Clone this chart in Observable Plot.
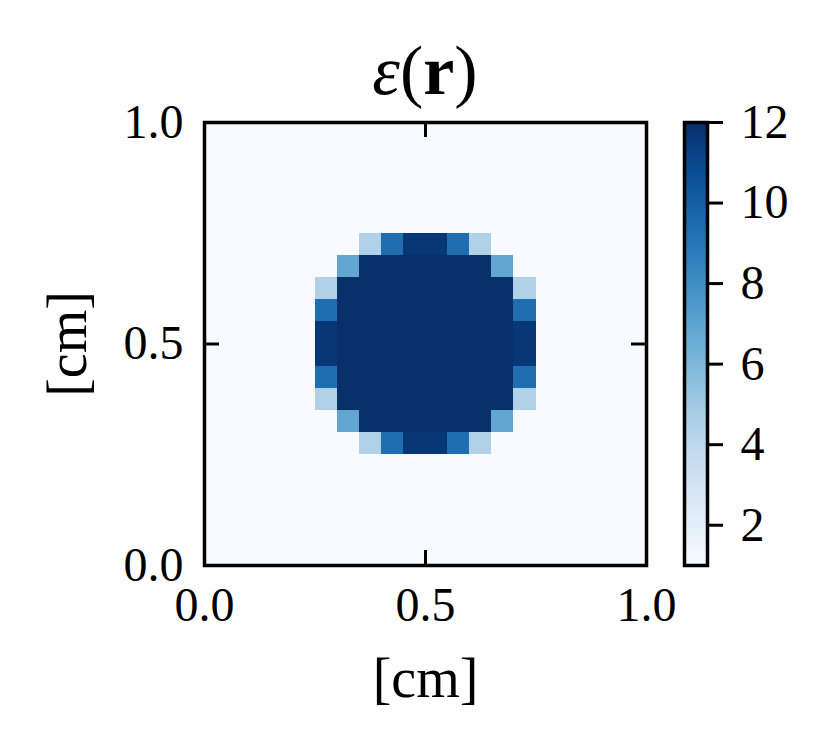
<!DOCTYPE html>
<html><head><meta charset="utf-8">
<script src="https://cdn.jsdelivr.net/npm/d3@7"></script>
<script src="https://cdn.jsdelivr.net/npm/@observablehq/plot@0.6"></script>
<style>
html,body{margin:0;padding:0;background:#fff;}
#wrap{position:relative;width:831px;height:749px;font-family:"Liberation Serif",serif;overflow:hidden;}
#wrap svg{position:absolute;left:0;top:0;}
#title{position:absolute;left:204px;width:442px;top:36px;text-align:center;font-size:70px;line-height:70px;color:#000;white-space:nowrap;}
#title .eps{font-style:italic;}
#title .r{font-weight:bold;}
</style>
</head><body>
<div id="wrap"><div id="title"><span class="eps">ε</span>(<span class="r">r</span>)</div></div>
<script>
// permittivity map, 20 x 20 cells of 0.05 cm, rows listed from top (y = 1.0) to bottom (y = 0.0)
const cellSize = 0.05;
const eps = [
  [1,1,1,1,1,1,1,1,1,1,1,1,1,1,1,1,1,1,1,1],
  [1,1,1,1,1,1,1,1,1,1,1,1,1,1,1,1,1,1,1,1],
  [1,1,1,1,1,1,1,1,1,1,1,1,1,1,1,1,1,1,1,1],
  [1,1,1,1,1,1,1,1,1,1,1,1,1,1,1,1,1,1,1,1],
  [1,1,1,1,1,1,1,1,1,1,1,1,1,1,1,1,1,1,1,1],
  [1,1,1,1,1,1,1,4.5,9.4,11.7,11.7,9.4,4.5,1,1,1,1,1,1,1],
  [1,1,1,1,1,1,6.9,12,12,12,12,12,12,6.9,1,1,1,1,1,1],
  [1,1,1,1,1,4.5,12,12,12,12,12,12,12,12,4.5,1,1,1,1,1],
  [1,1,1,1,1,9.4,12,12,12,12,12,12,12,12,9.4,1,1,1,1,1],
  [1,1,1,1,1,11.7,12,12,12,12,12,12,12,12,11.7,1,1,1,1,1],
  [1,1,1,1,1,11.7,12,12,12,12,12,12,12,12,11.7,1,1,1,1,1],
  [1,1,1,1,1,9.4,12,12,12,12,12,12,12,12,9.4,1,1,1,1,1],
  [1,1,1,1,1,4.5,12,12,12,12,12,12,12,12,4.5,1,1,1,1,1],
  [1,1,1,1,1,1,6.9,12,12,12,12,12,12,6.9,1,1,1,1,1,1],
  [1,1,1,1,1,1,1,4.5,9.4,11.7,11.7,9.4,4.5,1,1,1,1,1,1,1],
  [1,1,1,1,1,1,1,1,1,1,1,1,1,1,1,1,1,1,1,1],
  [1,1,1,1,1,1,1,1,1,1,1,1,1,1,1,1,1,1,1,1],
  [1,1,1,1,1,1,1,1,1,1,1,1,1,1,1,1,1,1,1,1],
  [1,1,1,1,1,1,1,1,1,1,1,1,1,1,1,1,1,1,1,1],
  [1,1,1,1,1,1,1,1,1,1,1,1,1,1,1,1,1,1,1,1]
];
const xTicks = [0, 0.5, 1];
const yTicks = [0, 0.5, 1];
const cbTicks = [2, 4, 6, 8, 10, 12];
const cbDomain = [1, 12];
const axisLabel = "[cm]";

const nRows = eps.length;
const cells = [];
eps.forEach((row, r) => row.forEach((v, c) => cells.push({
  x1: c * cellSize, x2: (c + 1) * cellSize,
  y1: (nRows - r - 1) * cellSize, y2: (nRows - r) * cellSize, v
})));

const W = 831, H = 749;
const fL = 204, fR = 646, fT = 122, fB = 565;
const pw = fR - fL, ph = fB - fT;
const tickLen = 15;
const fmt = d3.format(".1f");

const main = Plot.plot({
  width: W, height: H,
  marginLeft: fL, marginRight: W - fR, marginTop: fT, marginBottom: H - fB,
  style: {fontFamily: "'Liberation Serif', serif", fontSize: "48px", background: "transparent", overflow: "visible"},
  x: {domain: [0, 1]},
  y: {domain: [0, 1]},
  color: {type: "linear", scheme: "blues", domain: cbDomain},
  marks: [
    Plot.rect(cells, {x1: "x1", x2: "x2", y1: "y1", y2: "y2", fill: "v", shapeRendering: "crispEdges"}),
    Plot.tickX(xTicks, {x: d => d, insetBottom: ph - tickLen, stroke: "black", strokeWidth: 3}),
    Plot.tickX(xTicks, {x: d => d, insetTop: ph - tickLen, stroke: "black", strokeWidth: 3}),
    Plot.tickY(yTicks, {y: d => d, insetRight: pw - tickLen, stroke: "black", strokeWidth: 3}),
    Plot.tickY(yTicks, {y: d => d, insetLeft: pw - tickLen, stroke: "black", strokeWidth: 3}),
    Plot.axisX(xTicks, {tickSize: 0, tickPadding: 21, tickFormat: fmt, label: null, fill: "black"}),
    Plot.axisY(yTicks, {tickSize: 0, tickPadding: 21, tickFormat: fmt, label: null, fill: "black"}),
    Plot.frame({stroke: "black", strokeWidth: 3.5}),
    Plot.text([axisLabel], {frameAnchor: "bottom", dy: 114, lineAnchor: "middle", fontSize: 56, fill: "black"}),
    Plot.text([axisLabel], {frameAnchor: "left", dx: -136, rotate: -90, textAnchor: "middle", lineAnchor: "middle", fontSize: 56, fill: "black"})
  ]
});

const cbL = 684, cbR = 707;
const colorbar = Plot.plot({
  width: W, height: H,
  marginLeft: cbL, marginRight: W - cbR, marginTop: fT, marginBottom: H - fB,
  style: {fontFamily: "'Liberation Serif', serif", fontSize: "48px", background: "transparent", overflow: "visible"},
  x: {domain: [0, 1], axis: null},
  y: {domain: cbDomain, axis: null},
  color: {type: "linear", scheme: "blues", domain: cbDomain},
  marks: [
    Plot.raster({x1: 0, x2: 1, y1: cbDomain[0], y2: cbDomain[1], fill: (x, y) => y, pixelSize: 1}),
    Plot.axisY(cbTicks, {anchor: "right", tickSize: 15, tickPadding: 18, strokeWidth: 3, label: null, fill: "black", textAnchor: "start"}),
    Plot.frame({stroke: "black", strokeWidth: 3.5})
  ]
});

const wrap = document.getElementById("wrap");
wrap.appendChild(main);
wrap.appendChild(colorbar);
</script>
</body></html>
